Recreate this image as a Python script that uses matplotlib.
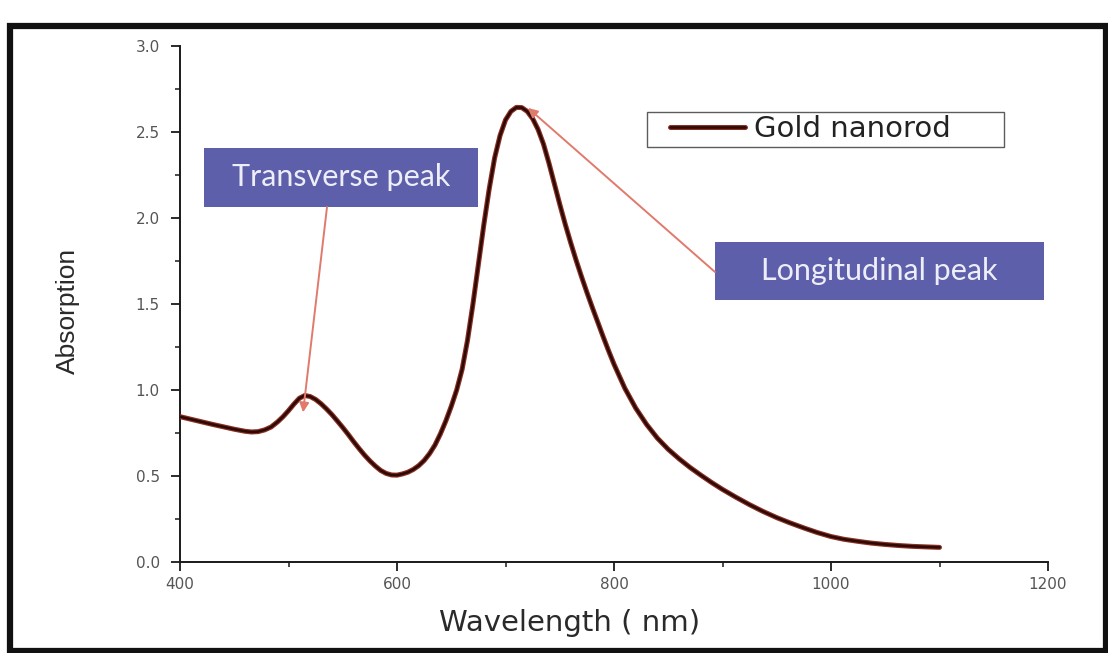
import matplotlib
matplotlib.use("Agg")
import matplotlib.pyplot as plt
from matplotlib.patches import Rectangle
from matplotlib.ticker import MultipleLocator
from matplotlib.legend_handler import HandlerTuple

# ---- data ----
wavelength = [400, 410, 420, 430, 440, 450, 460, 466, 472, 478, 484, 490, 495,
              500, 505, 510, 515, 520, 525, 530, 535, 540, 545, 550, 555, 560,
              565, 570, 575, 580, 585, 590, 595, 600, 605, 610, 615, 620, 625,
              630, 635, 640, 645, 650, 655, 660, 665, 670, 675, 680, 685, 690,
              695, 700, 705, 710, 715, 720, 725, 730, 735, 740, 745, 750, 755,
              760, 765, 770, 775, 780, 785, 790, 795, 800, 810, 820, 830, 840,
              850, 860, 870, 880, 890, 900, 912, 925, 937, 950, 962, 975, 987,
              1000, 1012, 1025, 1037, 1050, 1062, 1075, 1087, 1100]
absorption = [0.845, 0.83, 0.815, 0.80, 0.786, 0.772, 0.76, 0.756, 0.758, 0.768,
              0.785, 0.815, 0.845, 0.88, 0.918, 0.952, 0.968, 0.962, 0.945, 0.92,
              0.89, 0.857, 0.82, 0.782, 0.742, 0.70, 0.66, 0.622, 0.588, 0.558,
              0.532, 0.515, 0.506, 0.505, 0.512, 0.522, 0.538, 0.56, 0.59, 0.63,
              0.68, 0.745, 0.82, 0.905, 1.00, 1.12, 1.29, 1.50, 1.73, 1.96, 2.17,
              2.35, 2.48, 2.57, 2.62, 2.643, 2.642, 2.62, 2.578, 2.515, 2.43,
              2.32, 2.20, 2.08, 1.965, 1.858, 1.756, 1.66, 1.568, 1.48, 1.395,
              1.31, 1.228, 1.15, 1.01, 0.895, 0.80, 0.72, 0.655, 0.60, 0.55,
              0.505, 0.462, 0.422, 0.378, 0.333, 0.295, 0.258, 0.228, 0.198,
              0.172, 0.148, 0.132, 0.12, 0.11, 0.102, 0.096, 0.091, 0.088, 0.085]
series_label = "Gold nanorod"
x_ticks = [400, 600, 800, 1000, 1200]
y_ticks = [0.0, 0.5, 1.0, 1.5, 2.0, 2.5, 3.0]
x_title = "Wavelength ( nm)"
y_title = "Absorption"
transverse_text = "Transverse peak"
longitudinal_text = "Longitudinal peak"

W, H = 1108, 653
fig = plt.figure(figsize=(W / 100, H / 100), dpi=100)
fig.patch.set_facecolor("white")

ax = fig.add_axes([180 / W, 1 - 562 / H, 868 / W, 516 / H])

l1, = ax.plot(wavelength, absorption, color="#8a2f22", lw=3.6,
              solid_capstyle="round", solid_joinstyle="round", zorder=3)
l2, = ax.plot(wavelength, absorption, color="#2e0a06", lw=1.9,
              solid_capstyle="round", solid_joinstyle="round", zorder=4)

ax.set_xlim(400, 1200)
ax.set_ylim(0, 3.0)
ax.set_xticks(x_ticks)
ax.set_yticks(y_ticks)
ax.set_yticklabels([f"{v:.1f}" for v in y_ticks])
ax.xaxis.set_minor_locator(MultipleLocator(100))
ax.yaxis.set_minor_locator(MultipleLocator(0.25))

for s in ["top", "right"]:
    ax.spines[s].set_visible(False)
for s in ["left", "bottom"]:
    ax.spines[s].set_linewidth(1.4)
    ax.spines[s].set_color("#1a1a1a")

ax.tick_params(axis="both", which="major", direction="out", length=6.5, width=1.3,
               color="#1a1a1a", labelsize=11, labelcolor="#555555")
ax.tick_params(axis="both", which="minor", direction="out", length=3.5, width=1.1,
               color="#1a1a1a")
ax.tick_params(axis="y", which="major", pad=8)
ax.tick_params(axis="x", which="major", pad=4)

ax.set_xlabel(x_title, fontsize=21, color="#2a2a2a")
ax.xaxis.set_label_coords((570 - 180) / 868, (562 - 609) / 516)
ax.set_ylabel(y_title, fontsize=19, color="#2a2a2a",
              family=["Liberation Sans", "DejaVu Sans"])
ax.yaxis.set_label_coords((80 - 180) / 868, (562 - 311) / 516)

fs_leg = 21
fs_px = fs_leg * 100 / 72
leg = ax.legend([(l1, l2)], [series_label],
                handler_map={tuple: HandlerTuple(ndivide=1, xpad=20 / fs_px)},
                loc="upper left", bbox_to_anchor=(0.538, 0.797, 0.411, 0.0756),
                mode="expand", fontsize=fs_leg, frameon=True, fancybox=False,
                handlelength=95 / fs_px, handletextpad=0.3, borderpad=0.12,
                borderaxespad=0.0, labelcolor="#222222")
leg.get_frame().set_edgecolor("#333333")
leg.get_frame().set_linewidth(1.0)

box_color = "#5d5fab"
text_color = "#eeeef8"
# Transverse peak box
ax.add_patch(Rectangle((421.7, 2.064), 674.7 - 421.7, 2.407 - 2.064,
                       facecolor=box_color, edgecolor="none", zorder=5))
ax.text((421.7 + 674.7) / 2, (2.064 + 2.407) / 2, transverse_text,
        ha="center", va="center", fontsize=22, color=text_color,
        family=["Lato", "DejaVu Sans"], zorder=6)
# Longitudinal peak box
ax.add_patch(Rectangle((893.1, 1.523), 1196.3 - 893.1, 1.860 - 1.523,
                       facecolor=box_color, edgecolor="none", zorder=5))
ax.text((893.1 + 1196.3) / 2, (1.523 + 1.860) / 2, longitudinal_text,
        ha="center", va="center", fontsize=22, color=text_color,
        family=["Lato", "DejaVu Sans"], zorder=6)

arrow_color = "#e07a6c"
ax.annotate("", xy=(513.4, 0.87), xytext=(535.5, 2.064),
            arrowprops=dict(arrowstyle="-|>", color=arrow_color, lw=1.4,
                            mutation_scale=14, shrinkA=0, shrinkB=0), zorder=7)
ax.annotate("", xy=(720.7, 2.64), xytext=(893.1, 1.686),
            arrowprops=dict(arrowstyle="-|>", color=arrow_color, lw=1.4,
                            mutation_scale=14, shrinkA=0, shrinkB=0), zorder=7)

# outer frame
fig.patches.append(Rectangle((10 / W, 1 - 651 / H), (1106 - 10) / W, (651 - 26) / H,
                             transform=fig.transFigure, fill=False,
                             edgecolor="#111111", linewidth=4.5, clip_on=False))

fig.savefig("out.png", dpi=100, facecolor="white")
